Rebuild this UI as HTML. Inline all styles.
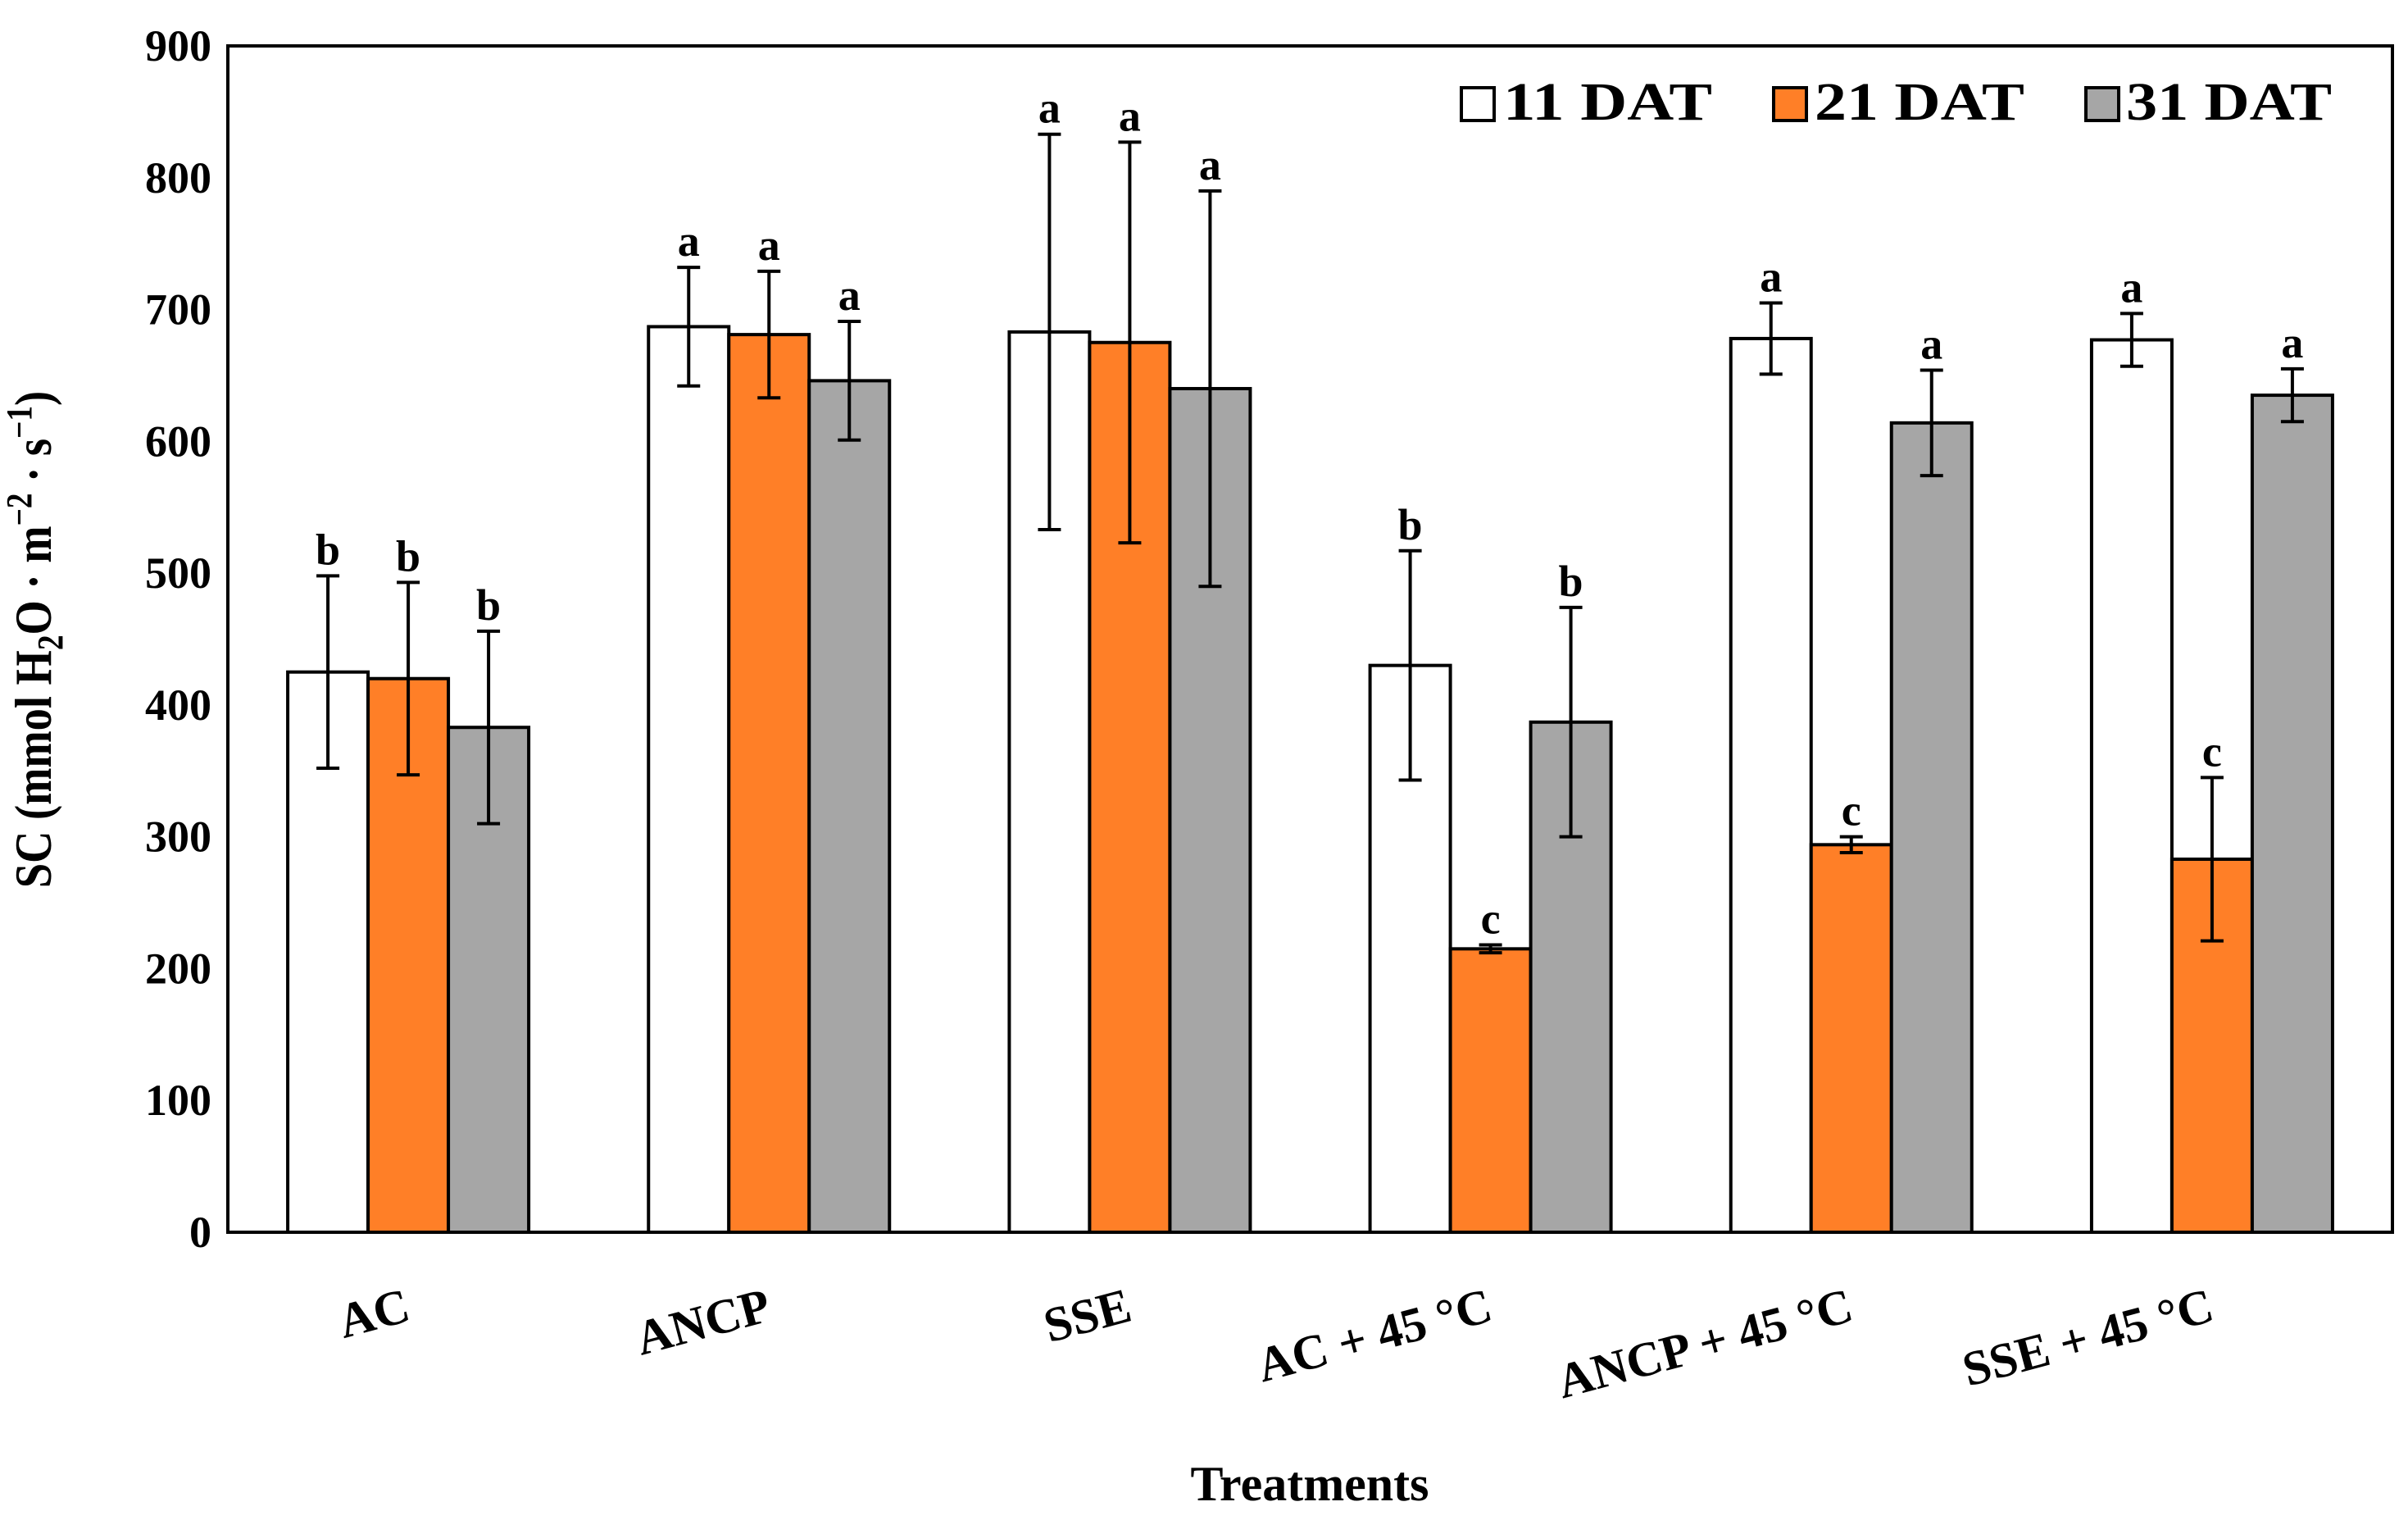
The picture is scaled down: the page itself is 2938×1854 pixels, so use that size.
<!DOCTYPE html>
<html><head><meta charset="utf-8"><style>
html,body{margin:0;padding:0;background:#fff;}
svg{display:block;}
text{font-family:"Liberation Serif",serif;font-weight:bold;fill:#000;}
</style></head><body>
<svg id="chart" width="2938" height="1854" viewBox="0 0 2938 1854" xmlns="http://www.w3.org/2000/svg">
<g id="bars"></g>
<rect x="278" y="56" width="2641" height="1447" fill="none" stroke="#000" stroke-width="4"/>
<g id="yticks"></g>
<g id="xlabels"></g>
<text x="62" y="780" font-size="64" text-anchor="middle" transform="rotate(-90 62 780) translate(62 780) scale(0.85 1) translate(-62 -780)">SC (mmol H<tspan font-size="44" dy="14">2</tspan><tspan dy="-14">O · m</tspan><tspan font-size="44" dy="-24">−2</tspan><tspan dy="24"> · s</tspan><tspan font-size="44" dy="-24">−1</tspan><tspan dy="24">)</tspan></text>
<text x="1598" y="1830" font-size="60" text-anchor="middle">Treatments</text>
<g id="legend">
<rect x="1783" y="107" width="40" height="40" fill="#fff" stroke="#000" stroke-width="4"/>
<text x="1834" y="146" font-size="66" textLength="255" lengthAdjust="spacingAndGlyphs">11 DAT</text>
<rect x="2164" y="107" width="40" height="40" fill="#FF7F27" stroke="#000" stroke-width="4"/>
<text x="2214" y="146" font-size="66" textLength="256" lengthAdjust="spacingAndGlyphs">21 DAT</text>
<rect x="2545" y="107" width="40" height="40" fill="#A6A6A6" stroke="#000" stroke-width="4"/>
<text x="2594" y="146" font-size="66" textLength="251" lengthAdjust="spacingAndGlyphs">31 DAT</text>
</g>
</svg>
<script>
const categories = ["AC","ANCP","SSE","AC + 45 °C","ANCP + 45 °C","SSE + 45 °C"];
const seriesNames = ["11 DAT","21 DAT","31 DAT"];
const values11 = [425,687,683,430,678,677];
const values21 = [420,681,675,215,294,283];
const values31 = [383,646,640,387,614,635];
const err11 = [73,45,150,87,27,20];
const err21 = [73,48,152,3,6,62];
const err31 = [73,45,150,87,40,20];
const letters11 = ["b","a","a","b","a","a"];
const letters21 = ["b","a","a","c","c","c"];
const letters31 = ["b","a","a","b","a","a"];
const yTicks = [0,100,200,300,400,500,600,700,800,900];

const NS="http://www.w3.org/2000/svg";
const X0=278,X1=2919,Y0=1503,Y1=56,YMAX=900;
const groupW=(X1-X0)/categories.length, barW=98;
function y(v){return Y0-(v/YMAX)*(Y0-Y1);}
function groupCenter(i){return X0+groupW*(i+0.5);}
function mk(tag,attrs,parent){const e=document.createElementNS(NS,tag);for(const k in attrs)e.setAttribute(k,attrs[k]);parent.appendChild(e);return e;}

const yt=document.getElementById('yticks');
yTicks.forEach(t=>{
  const e=mk('text',{x:258,y:y(t)+18,'font-size':54,'text-anchor':'end'},yt);
  e.textContent=t;
  
  
});

const colors=["#FFFFFF","#FF7F27","#A6A6A6"];
const vals=[values11,values21,values31], errs=[err11,err21,err31], lets=[letters11,letters21,letters31];
const bg=document.getElementById('bars');
categories.forEach((c,i)=>{
  for(let s=0;s<3;s++){
    const cx=groupCenter(i)+(s-1)*barW;
    const v=vals[s][i], er=errs[s][i];
    const r=mk('rect',{x:cx-barW/2,y:y(v),width:barW,height:Y0-y(v),fill:colors[s],stroke:'#000','stroke-width':4},bg);
    
    
    const eg=mk('g',{stroke:'#000','stroke-width':4},bg);
    
    
    mk('line',{x1:cx,x2:cx,y1:y(v+er),y2:y(v-er)},eg);
    mk('line',{x1:cx-14,x2:cx+14,y1:y(v+er),y2:y(v+er)},eg);
    mk('line',{x1:cx-14,x2:cx+14,y1:y(v-er),y2:y(v-er)},eg);
    const l=mk('text',{x:cx,y:y(v+er)-14,'font-size':54,'text-anchor':'middle'},bg);
    l.textContent=lets[s][i];
    
    
  }
});

const xl=document.getElementById('xlabels');
categories.forEach((c,i)=>{
  const cx=groupCenter(i)+5, cy=1610;
  const e=mk('text',{x:cx,y:cy,'font-size':60,'text-anchor':'end',transform:`rotate(-15 ${cx} ${cy})`},xl);
  e.textContent=c;
  
  
});
</script>
</body></html>
